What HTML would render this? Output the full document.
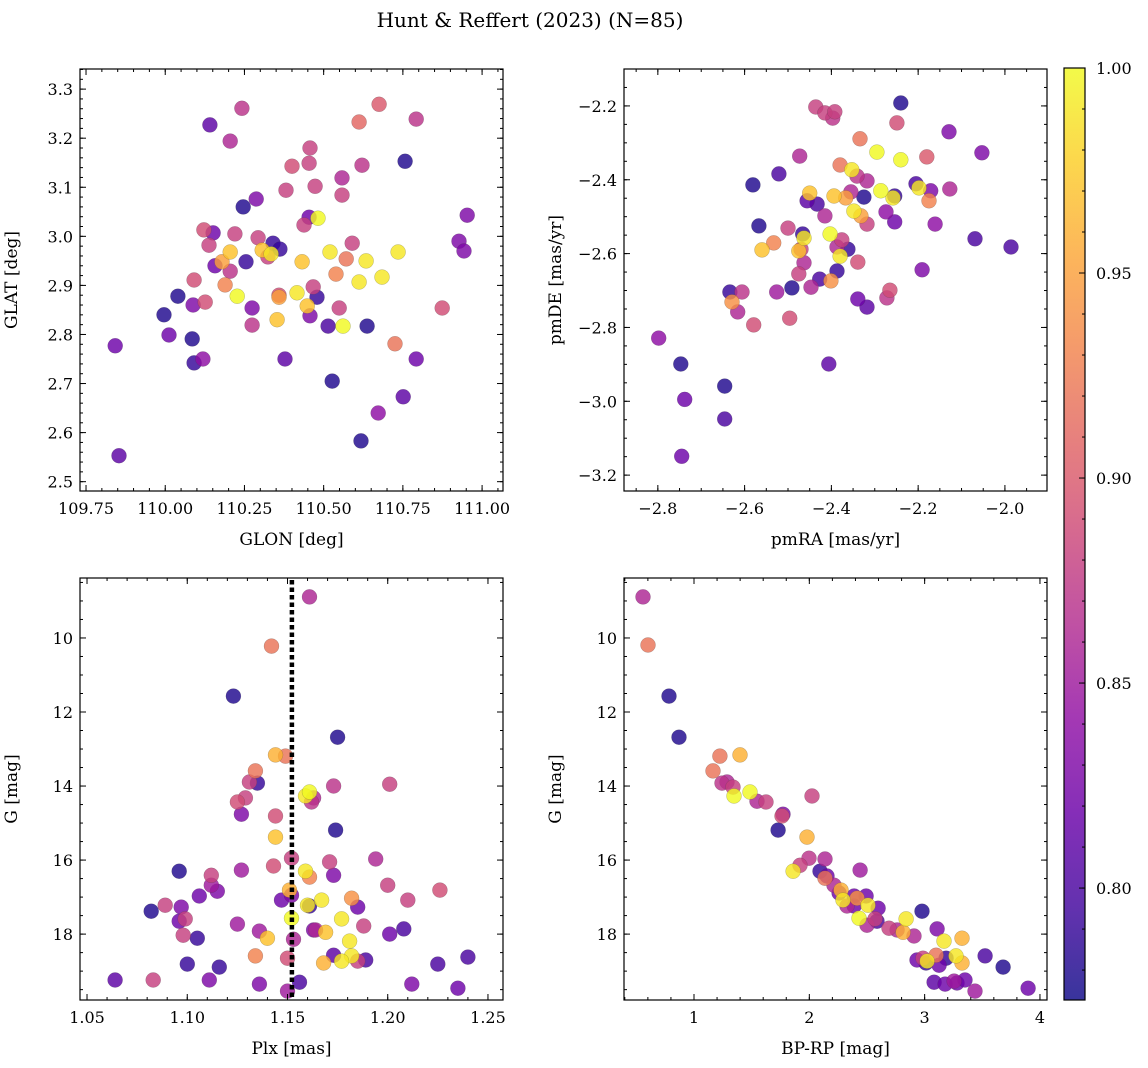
<!DOCTYPE html>
<html><head><meta charset="utf-8">
<style>
html,body{margin:0;padding:0;background:#fff;}
svg{display:block;font-family:"DejaVu Serif","Liberation Serif",serif;}
</style></head>
<body>
<svg id="fig" width="1148" height="1068" viewBox="0 0 1148 1068" xmlns="http://www.w3.org/2000/svg">
<defs>
<linearGradient id="cbgrad" x1="0" y1="1" x2="0" y2="0"></linearGradient>
</defs>
<text x="530" y="27" text-anchor="middle" font-size="20">Hunt &amp; Reffert (2023) (N=85)</text>
</svg>
<script>
const glon=[110.242,110.141,110.205,110.675,110.612,110.792,110.757,110.457,110.400,110.454,110.621,110.558,110.473,110.558,110.381,110.287,110.246,110.454,110.482,110.438,110.953,110.927,110.943,110.122,110.151,110.220,110.293,110.340,110.362,110.306,110.324,110.334,110.138,110.205,110.590,110.520,110.735,110.179,110.157,110.255,110.205,110.432,110.571,110.634,110.539,110.612,110.684,110.091,110.189,110.040,110.227,110.359,110.359,110.416,110.467,110.479,110.448,109.996,110.088,110.126,110.274,110.549,110.874,110.353,110.274,110.457,110.514,110.561,110.637,110.012,110.085,109.842,110.725,110.119,110.091,110.378,110.792,110.527,110.751,110.672,110.618,109.854];
const glat=[3.261,3.227,3.194,3.269,3.233,3.239,3.153,3.180,3.143,3.149,3.145,3.119,3.102,3.084,3.094,3.076,3.060,3.039,3.037,3.023,3.043,2.990,2.970,3.013,3.007,3.005,2.997,2.986,2.974,2.972,2.958,2.964,2.982,2.968,2.986,2.968,2.968,2.948,2.940,2.948,2.929,2.948,2.954,2.950,2.923,2.907,2.917,2.911,2.901,2.878,2.878,2.880,2.876,2.885,2.897,2.876,2.858,2.840,2.860,2.866,2.854,2.854,2.854,2.830,2.819,2.838,2.817,2.817,2.817,2.799,2.791,2.777,2.781,2.750,2.742,2.750,2.750,2.705,2.673,2.640,2.583,2.553];
const prob1=[.87,.81,.86,.90,.91,.87,.78,.88,.89,.88,.87,.86,.88,.88,.88,.83,.78,.82,1.0,.88,.83,.83,.83,.89,.82,.88,.88,.79,.79,.97,.88,.99,.88,.97,.88,.99,.99,.95,.82,.79,.87,.97,.92,.99,.93,.99,.99,.89,.93,.78,1.0,.89,.95,.99,.88,.79,.97,.78,.83,.89,.83,.88,.89,.97,.87,.83,.80,1.0,.78,.82,.78,.82,.92,.84,.79,.81,.82,.78,.81,.84,.78,.81];

const pmra=[-2.436,-2.415,-2.392,-2.397,-2.240,-2.249,-2.129,-2.053,-2.334,-2.295,-2.240,-2.180,-2.473,-2.380,-2.353,-2.341,-2.318,-2.521,-2.581,-2.205,-2.198,-2.171,-2.127,-2.450,-2.456,-2.433,-2.394,-2.367,-2.355,-2.325,-2.286,-2.258,-2.254,-2.175,-2.348,-2.332,-2.415,-2.318,-2.274,-2.254,-2.161,-2.567,-2.500,-2.466,-2.463,-2.403,-2.376,-2.387,-2.362,-2.380,-2.560,-2.533,-2.475,-2.470,-2.463,-2.475,-2.387,-2.427,-2.401,-2.339,-2.191,-2.069,-1.986,-2.634,-2.606,-2.629,-2.616,-2.526,-2.491,-2.447,-2.265,-2.272,-2.339,-2.318,-2.496,-2.579,-2.798,-2.747,-2.406,-2.646,-2.738,-2.646,-2.745];
const pmde=[-2.203,-2.219,-2.216,-2.233,-2.192,-2.246,-2.270,-2.327,-2.289,-2.325,-2.346,-2.338,-2.336,-2.360,-2.373,-2.390,-2.403,-2.384,-2.414,-2.411,-2.422,-2.430,-2.425,-2.436,-2.457,-2.466,-2.444,-2.449,-2.433,-2.447,-2.430,-2.449,-2.444,-2.457,-2.485,-2.498,-2.498,-2.520,-2.487,-2.514,-2.520,-2.525,-2.531,-2.547,-2.558,-2.547,-2.563,-2.582,-2.588,-2.607,-2.590,-2.571,-2.593,-2.588,-2.625,-2.655,-2.647,-2.669,-2.674,-2.623,-2.644,-2.560,-2.582,-2.704,-2.704,-2.731,-2.758,-2.704,-2.693,-2.691,-2.699,-2.720,-2.723,-2.745,-2.775,-2.793,-2.829,-2.899,-2.899,-2.959,-2.995,-3.048,-3.149];
const prob2=[.88,.88,.88,.87,.78,.89,.83,.83,.92,1.0,1.0,.90,.86,.92,.99,.87,.86,.80,.78,.80,.99,.83,.86,.97,.81,.80,.97,.95,.86,.78,1.0,.99,.79,.93,.99,.95,.86,.88,.84,.82,.84,.78,.88,.79,.99,1.0,.88,.86,.79,.99,.97,.93,.97,.88,.86,.88,.79,.80,.94,.89,.83,.80,.80,.79,.87,.94,.86,.85,.78,.86,.89,.87,.82,.81,.89,.89,.84,.78,.81,.78,.82,.80,.82];

const plx=[1.161,1.142,1.123,1.175,1.144,1.149,1.134,1.131,1.135,1.129,1.125,1.127,1.161,1.159,1.163,1.162,1.173,1.201,1.144,1.144,1.174,1.152,1.143,1.171,1.194,1.159,1.161,1.173,1.096,1.127,1.112,1.112,1.115,1.106,1.089,1.082,1.097,1.099,1.096,1.098,1.105,1.200,1.226,1.210,1.151,1.152,1.147,1.167,1.160,1.161,1.182,1.185,1.152,1.177,1.188,1.125,1.136,1.140,1.153,1.163,1.164,1.169,1.201,1.208,1.181,1.134,1.150,1.173,1.182,1.177,1.168,1.185,1.189,1.100,1.116,1.225,1.240,1.064,1.083,1.111,1.136,1.156,1.150,1.212,1.235];
const gmag3=[8.89,10.22,11.57,12.68,13.16,13.19,13.59,13.89,13.92,14.32,14.43,14.76,14.16,14.27,14.32,14.43,14.00,13.95,14.81,15.38,15.19,15.95,16.16,16.05,15.97,16.30,16.46,16.41,16.30,16.27,16.41,16.68,16.84,16.97,17.22,17.38,17.27,17.59,17.65,18.03,18.11,16.68,16.81,17.08,16.81,16.95,17.08,17.08,17.22,17.24,17.03,17.27,17.57,17.59,17.78,17.73,17.92,18.11,18.14,17.89,17.89,17.95,18.00,17.86,18.19,18.59,18.65,18.57,18.59,18.73,18.78,18.73,18.70,18.81,18.89,18.81,18.62,19.24,19.24,19.24,19.35,19.30,19.54,19.35,19.46];
const prob3=[.86,.92,.78,.78,.96,.92,.92,.88,.79,.88,.89,.83,1.0,.99,.86,.87,.87,.88,.89,.97,.78,.88,.89,.88,.86,.99,.93,.83,.78,.85,.88,.85,.83,.82,.88,.78,.83,.88,.82,.88,.79,.88,.89,.88,.96,.83,.82,.99,.99,.79,.94,.82,1.0,.99,.88,.85,.85,.97,.86,.83,.86,.97,.82,.80,.99,.93,.89,.81,.99,.99,.96,.88,.80,.79,.79,.80,.80,.81,.88,.83,.83,.80,.85,.83,.82];
const plxRef=[1.1522];

const bprp=[0.558,0.601,0.783,0.870,1.225,1.399,1.165,1.243,1.286,1.338,1.347,1.486,1.546,1.624,1.772,1.763,1.729,2.023,1.980,1.997,2.136,1.919,1.859,2.440,2.093,2.153,2.136,2.214,2.275,2.258,2.388,2.414,2.492,2.292,2.327,2.388,2.509,2.596,2.431,2.500,2.587,2.570,2.691,2.761,2.839,2.813,2.908,2.977,3.108,3.168,3.324,2.934,3.012,3.021,3.099,3.125,3.186,3.272,3.324,3.524,3.680,3.082,3.177,3.255,3.281,3.350,3.437,3.897,2.986];
const gmag4=[8.89,10.19,11.57,12.68,13.19,13.16,13.59,13.92,13.89,14.03,14.27,14.16,14.41,14.43,14.76,14.81,15.19,14.27,15.38,15.95,15.97,16.14,16.30,16.27,16.30,16.43,16.49,16.68,16.81,16.89,16.97,17.03,16.97,17.08,17.24,17.24,17.22,17.30,17.57,17.76,17.65,17.59,17.84,17.89,17.59,17.95,18.05,17.38,17.86,18.19,18.11,18.70,18.78,18.73,18.57,18.84,18.65,18.59,18.78,18.59,18.89,19.30,19.35,19.27,19.32,19.24,19.54,19.46,18.65];
const prob4=[.86,.92,.78,.78,.92,.96,.92,.87,.86,.88,1.0,1.0,.86,.88,.83,.89,.78,.88,.96,.87,.86,.88,.99,.85,.79,.82,.92,.86,.96,.82,.82,.94,.82,.99,.86,.82,.99,.82,1.0,.86,.80,.88,.88,.86,.99,.96,.86,.78,.83,.99,.96,.82,.79,.99,.92,.82,.79,.99,.96,.80,.78,.81,.82,.85,.82,.82,.85,.82,.88];

const ticks1x=["109.75","110.00","110.25","110.50","110.75","111.00"];
const ticks1y=["2.5","2.6","2.7","2.8","2.9","3.0","3.1","3.2","3.3"];
const ticks2x=["-2.8","-2.6","-2.4","-2.2","-2.0"];
const ticks2y=["-3.2","-3.0","-2.8","-2.6","-2.4","-2.2"];
const ticks3x=["1.05","1.10","1.15","1.20","1.25"];
const ticksGy=["10","12","14","16","18"];
const ticks4x=["1","2","3","4"];
const ticksCb=["0.80","0.85","0.90","0.95","1.00"];

const NS="http://www.w3.org/2000/svg";
const svg=document.getElementById('fig');
const VMIN=0.7727, VMAX=1.0;
const plasma=[[13,8,135],[65,4,157],[106,0,168],[143,13,164],[177,42,144],[204,71,120],[225,100,98],[242,132,75],[252,166,54],[252,206,37],[240,249,33]];
function cmap(v){let t=(v-VMIN)/(VMAX-VMIN);t=Math.max(0,Math.min(1,t));const f=t*10;const i=Math.min(9,Math.floor(f));const r=f-i;const a=plasma[i],b=plasma[i+1];return 'rgb('+a.map((c,k)=>Math.round(c+(b[k]-c)*r)).join(',')+')';}
function el(tag,attrs,parent){const e=document.createElementNS(NS,tag);for(const k in attrs)e.setAttribute(k,attrs[k]);(parent||svg).appendChild(e);return e;}
function lab(s){return s.replace('-','\u2212');}

function panel(name,box,xd,yd,invY,xt,yt,xminor,yminor,xlabel,ylabel,xs,ys,cs){
  const [L,T,R,B]=box;
  const sx=v=>L+(v-xd[0])/(xd[1]-xd[0])*(R-L);
  const sy=invY?(v=>T+(v-yd[0])/(yd[1]-yd[0])*(B-T)):(v=>B-(v-yd[0])/(yd[1]-yd[0])*(B-T));
  const g=el('g',{});
  
  
  const clip=el('clipPath',{id:name+'-clip'},g);
  el('rect',{x:L,y:T,width:R-L,height:B-T},clip);
  const pts=el('g',{'clip-path':'url(#'+name+'-clip)'},g);
  
  
  const idx=cs.map((c,i)=>i).sort((a,b)=>cs[a]-cs[b]);
  idx.forEach(i=>{
    const c=el('circle',{cx:sx(xs[i]).toFixed(1),cy:sy(ys[i]).toFixed(1),r:7.5,fill:cmap(cs[i]),'fill-opacity':0.82,stroke:'rgba(60,60,60,0.35)','stroke-width':0.5},pts);
    
    
  });
  const lo=Math.min(xd[0],xd[1]),hi=Math.max(xd[0],xd[1]);
  for(let v=Math.ceil(lo/xminor-1e-6)*xminor;v<=hi+1e-9;v+=xminor){const x=sx(v);el('line',{x1:x,x2:x,y1:B,y2:B-3,stroke:'#000','stroke-width':1},g);el('line',{x1:x,x2:x,y1:T,y2:T+3,stroke:'#000','stroke-width':1},g);}
  const ylo=Math.min(yd[0],yd[1]),yhi=Math.max(yd[0],yd[1]);
  for(let v=Math.ceil(ylo/yminor-1e-6)*yminor;v<=yhi+1e-9;v+=yminor){const y=sy(v);el('line',{x1:L,x2:L+3,y1:y,y2:y,stroke:'#000','stroke-width':1},g);el('line',{x1:R,x2:R-3,y1:y,y2:y,stroke:'#000','stroke-width':1},g);}
  xt.forEach(s=>{const x=sx(parseFloat(s));el('line',{x1:x,x2:x,y1:B,y2:B-6,stroke:'#000','stroke-width':1},g);el('line',{x1:x,x2:x,y1:T,y2:T+6,stroke:'#000','stroke-width':1},g);
    const t=el('text',{x:x,y:B+23,'text-anchor':'middle','font-size':16},g);t.textContent=lab(s);
    });
  yt.forEach(s=>{const y=sy(parseFloat(s));el('line',{x1:L,x2:L+6,y1:y,y2:y,stroke:'#000','stroke-width':1},g);el('line',{x1:R,x2:R-6,y1:y,y2:y,stroke:'#000','stroke-width':1},g);
    const t=el('text',{x:L-7,y:y+6,'text-anchor':'end','font-size':16},g);t.textContent=lab(s);
    });
  el('rect',{x:L,y:T,width:R-L,height:B-T,fill:'none',stroke:'#000','stroke-width':1.2},g);
  const xl=el('text',{x:(L+R)/2,y:B+54,'text-anchor':'middle','font-size':17},g);xl.textContent=xlabel;
  
  const yx=L-63,yy=(T+B)/2;
  const yl=el('text',{x:yx,y:yy,'text-anchor':'middle','font-size':17,transform:'rotate(-90 '+yx+' '+yy+')'},g);yl.textContent=ylabel;
  
  return {sx,sy,g};
}

panel('glon-glat-panel',[80,69,503,491],[109.731,111.066],[2.481,3.341],false,ticks1x,ticks1y,0.05,0.02,'GLON [deg]','GLAT [deg]',glon,glat,prob1);
panel('pm-panel',[624,69,1047,491],[-2.878,-1.903],[-3.243,-2.100],false,ticks2x,ticks2y,0.05,0.05,'pmRA [mas/yr]','pmDE [mas/yr]',pmra,pmde,prob2);
const p3=panel('plx-g-panel',[80,578,503,1000],[1.0465,1.2575],[8.38,19.78],true,ticks3x,ticksGy,0.01,0.5,'Plx [mas]','G [mag]',plx,gmag3,prob3);
panel('cmd-panel',[624,578,1047,1000],[0.393,4.061],[8.38,19.78],true,ticks4x,ticksGy,0.2,0.5,'BP-RP [mag]','G [mag]',bprp,gmag4,prob4);

const rx=p3.sx(plxRef[0]);
const rl=el('line',{x1:rx,x2:rx,y1:580,y2:1000,stroke:'#000','stroke-width':4.5,'stroke-dasharray':'4.5 3'});



const grad=document.getElementById('cbgrad');
for(let i=0;i<=20;i++){const v=VMIN+(VMAX-VMIN)*i/20;el('stop',{offset:(i/20),'stop-color':cmap(v)},grad);}
const cbL=1064,cbR=1085,cbT=68,cbB=1000;
const cbg=el('g',{});


el('rect',{x:cbL,y:cbT,width:cbR-cbL,height:cbB-cbT,fill:'url(#cbgrad)','fill-opacity':0.82},cbg);
const cy=v=>cbB-(v-VMIN)/(VMAX-VMIN)*(cbB-cbT);
for(let v=0.78;v<=1.0001;v+=0.01){const y=cy(v);el('line',{x1:cbR,x2:cbR-3,y1:y,y2:y,stroke:'#000','stroke-width':1},cbg);}
ticksCb.forEach(s=>{const y=cy(parseFloat(s));el('line',{x1:cbR,x2:cbR-6,y1:y,y2:y,stroke:'#000','stroke-width':1},cbg);
  const t=el('text',{x:cbR+11,y:y+6,'font-size':16},cbg);t.textContent=s;
  });
el('rect',{x:cbL,y:cbT,width:cbR-cbL,height:cbB-cbT,fill:'none',stroke:'#000','stroke-width':1.2},cbg);
</script>
</body></html>
